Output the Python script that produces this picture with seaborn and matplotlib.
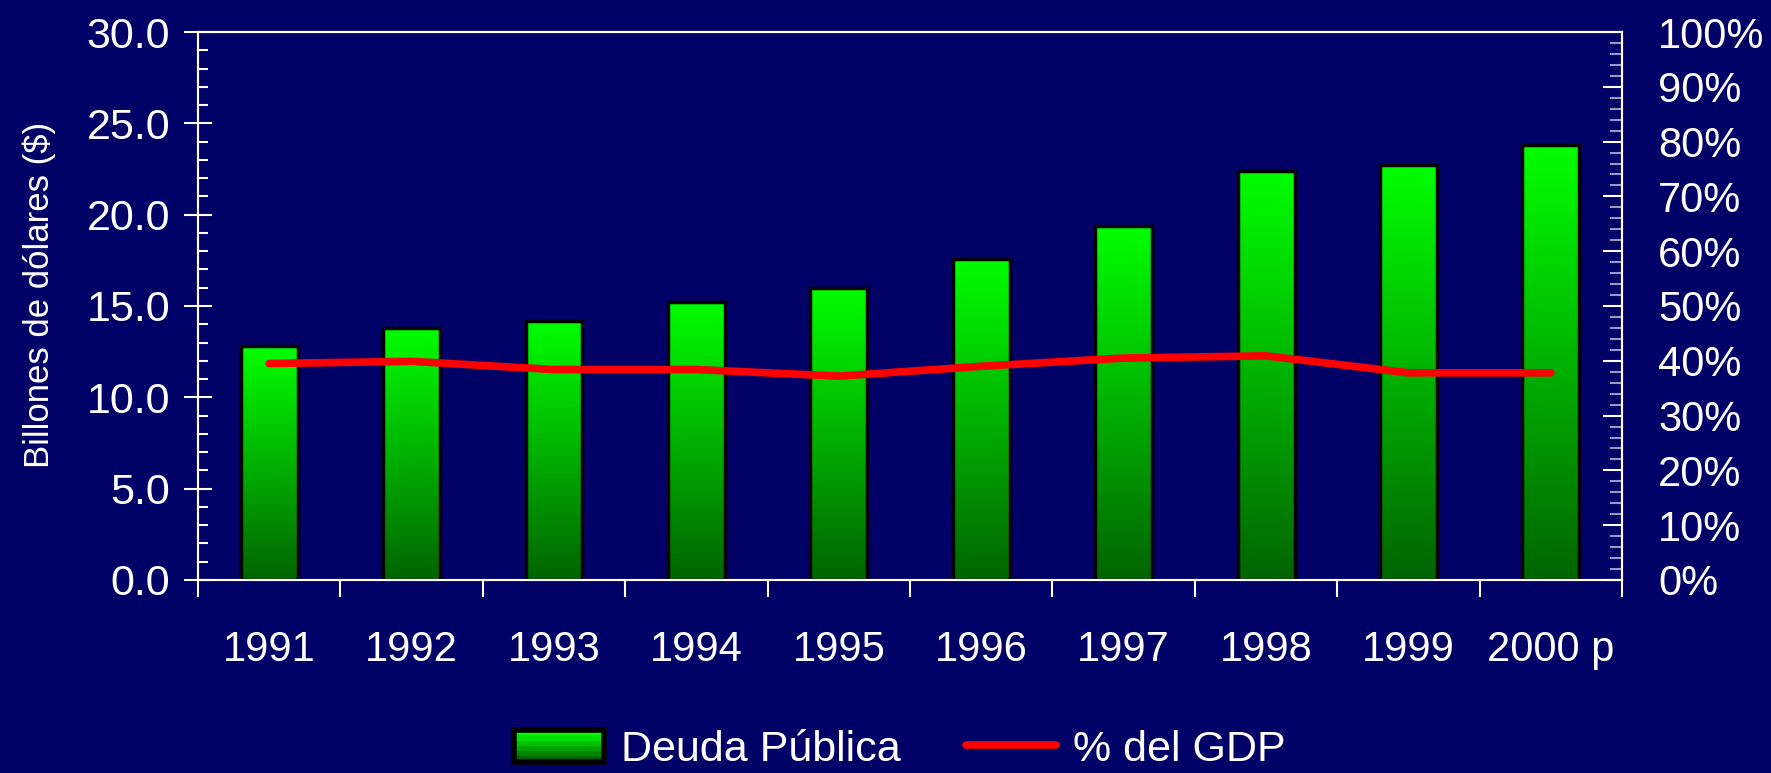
import numpy as np
import pandas as pd
import matplotlib
matplotlib.use('Agg')
import matplotlib.pyplot as plt
import seaborn as sns
from matplotlib.colors import LinearSegmentedColormap
from matplotlib.patches import Rectangle
from matplotlib.lines import Line2D
from matplotlib.legend_handler import HandlerBase
from matplotlib.ticker import MultipleLocator, FixedLocator, NullFormatter, FixedFormatter, FormatStrFormatter

# --- data ---
years = ['1991', '1992', '1993', '1994', '1995', '1996', '1997', '1998', '1999', '2000 p']
deuda = [12.8, 13.8, 14.2, 15.2, 16.0, 17.6, 19.4, 22.4, 22.7, 23.8]   # billones de dólares
pct_gdp = [39.5, 39.9, 38.4, 38.4, 37.2, 39.0, 40.5, 40.9, 37.8, 37.8]  # % del GDP

BG = '#000066'
FG = 'white'
green_cmap = LinearSegmentedColormap.from_list('verde', ['#006400', '#00ff00'])

sns.set_theme(style='white')
plt.rcParams['font.family'] = ['Liberation Sans', 'DejaVu Sans']
plt.rcParams['axes.edgecolor'] = FG


class GradientHandler(HandlerBase):
    # legend patch drawn as horizontal bands, bright at top, dark at bottom
    def create_artists(self, legend, orig_handle, xdescent, ydescent, width, height, fontsize, trans):
        arts = []
        n = 6
        for i in range(n):
            c = green_cmap(i / (n - 1))
            arts.append(Rectangle((-xdescent, -ydescent + height * i / n), width, height / n,
                                  facecolor=c, edgecolor='none', transform=trans))
        arts.append(Rectangle((-xdescent, -ydescent), width, height, fill=False,
                              edgecolor='black', lw=4, transform=trans))
        return arts


fig = plt.figure(figsize=(17.71, 7.73), dpi=100)
fig.patch.set_facecolor(BG)
ax = fig.add_axes([0.1118, 0.2497, 0.8041, 0.7089])
ax.set_facecolor(BG)

df = pd.DataFrame({'year': years, 'deuda': deuda})
sns.barplot(data=df, x='year', y='deuda', ax=ax, width=0.4, color='#00ff00',
            saturation=1, edgecolor='black', linewidth=2.5)

# gradient fill inside each bar
grad = np.linspace(0, 1, 256).reshape(-1, 1)
for p in list(ax.patches):
    x0, w, h = p.get_x(), p.get_width(), p.get_height()
    im = ax.imshow(grad, cmap=green_cmap, origin='lower', extent=[x0, x0 + w, 0, h],
                   aspect='auto', zorder=2)
    im.set_clip_path(p)
    p.set_facecolor('none')
    p.set_zorder(3)

ax.set_xlim(-0.5, len(years) - 0.5)
ax.set_ylim(0, 30)
ax.set_xlabel('')
ax.set_ylabel('Billones de dólares ($)', fontsize=25, color=FG)
ax.yaxis.set_label_coords(-0.1, 0.52)

# x ticks between categories, labels at category centres
ax.xaxis.set_major_locator(FixedLocator(np.arange(-0.5, len(years), 1)))
ax.xaxis.set_major_formatter(NullFormatter())
ax.xaxis.set_minor_locator(FixedLocator(np.arange(len(years))))
ax.xaxis.set_minor_formatter(FixedFormatter(years))
ax.tick_params(axis='x', which='major', direction='out', length=12, width=1.5, color=FG, bottom=True)
ax.tick_params(axis='x', which='minor', length=0, pad=36, labelsize=30, labelcolor=FG, bottom=True)

ax.yaxis.set_major_locator(MultipleLocator(5))
ax.yaxis.set_minor_locator(MultipleLocator(1))
ax.yaxis.set_major_formatter(FormatStrFormatter('%.1f'))
ax.tick_params(axis='y', which='major', direction='inout', length=20, width=1.5,
               color=FG, labelcolor=FG, labelsize=31, pad=10, left=True)
ax.tick_params(axis='y', which='minor', direction='in', length=7, width=1.5, color=FG, left=True)

# --- % del GDP on the right axis ---
ax2 = ax.twinx()
ax2.set_facecolor('none')
sns.lineplot(x=np.arange(len(years)), y=pct_gdp, ax=ax2, color='#ff0000', lw=5.5)
ax2.set_ylim(0, 100)
ax2.set_xlim(-0.5, len(years) - 0.5)
ax2.yaxis.set_major_locator(MultipleLocator(10))
ax2.yaxis.set_minor_locator(MultipleLocator(2))
ax2.yaxis.set_major_formatter(FormatStrFormatter('%d%%'))
ax2.tick_params(axis='y', which='major', direction='in', length=14, width=1.5,
                color=FG, labelcolor=FG, labelsize=30, pad=26, right=True)
ax2.tick_params(axis='y', which='minor', direction='in', length=9, width=1.5,
                color='#9a9ac0', right=True)
ax2.set_ylabel('')

for a in (ax, ax2):
    for s in a.spines.values():
        s.set_color(FG)
        s.set_linewidth(1.5)
        s.set_visible(True)

handles = [Rectangle((0, 0), 1, 1), Line2D([], [], color='#ff0000', lw=5.5)]
labels = ['Deuda Pública', '% del GDP']
fig.legend(handles, labels, handler_map={Rectangle: GradientHandler()},
           loc='center', bbox_to_anchor=(0.508, 0.03), ncol=2, frameon=False,
           fontsize=31, labelcolor=FG, handlelength=2.1, handleheight=0.75,
           handletextpad=0.4, columnspacing=1.5, borderpad=0)

fig.savefig('out.png', dpi=100, facecolor=BG)
